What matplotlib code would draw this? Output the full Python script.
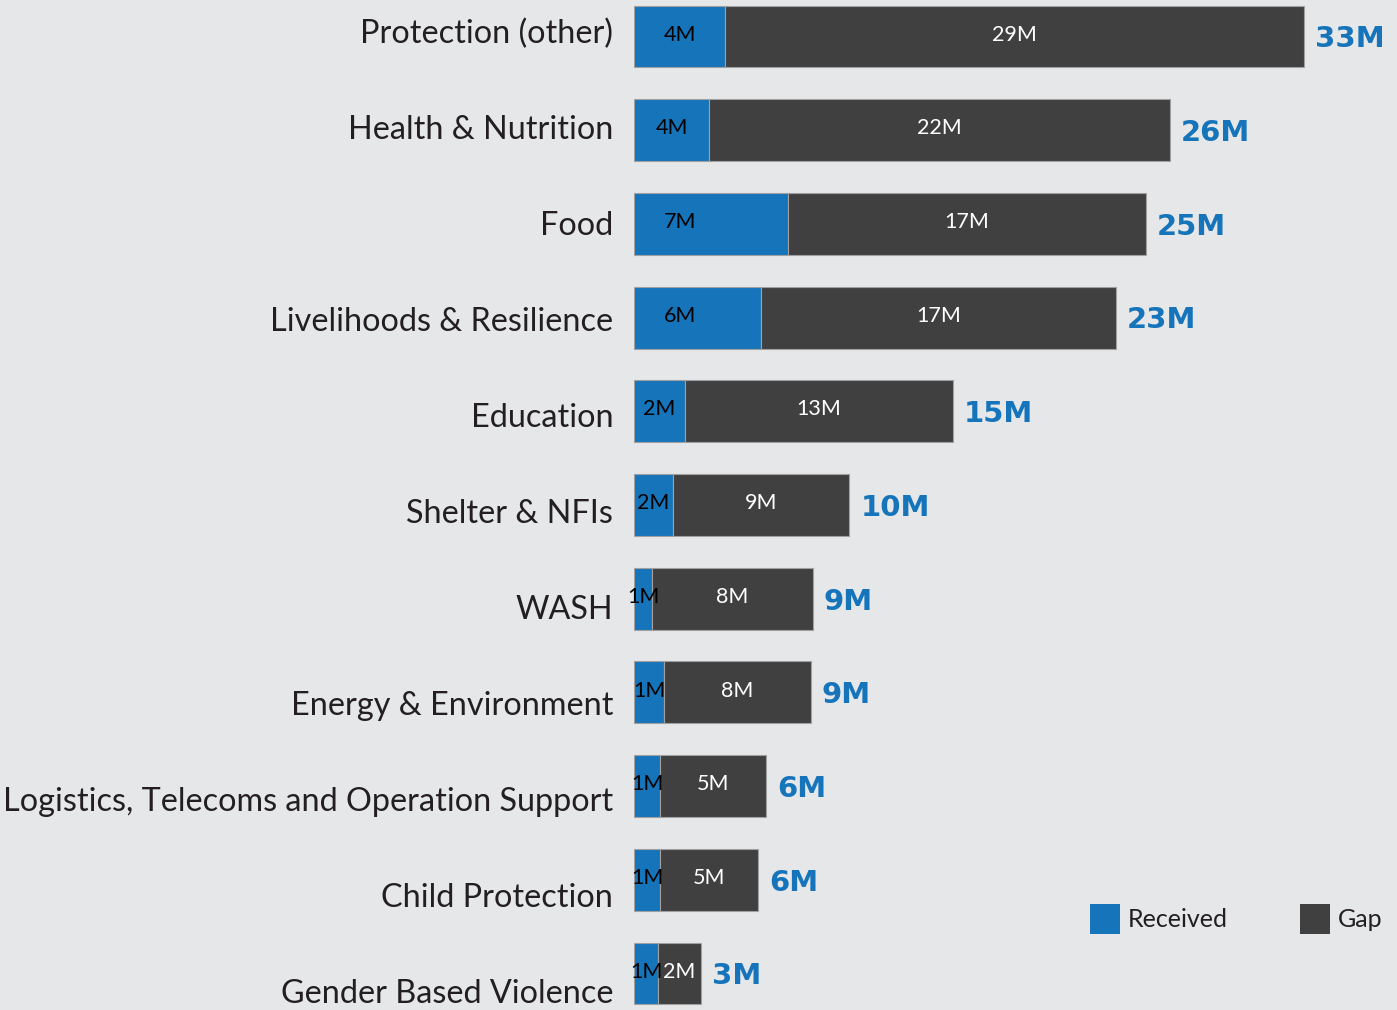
import matplotlib.pyplot as plt
from matplotlib.patches import Patch

# 数据 (单位: 百万)
categories = ['Protection (other)', 'Health & Nutrition', 'Food', 'Livelihoods & Resilience',
              'Education', 'Shelter & NFIs', 'WASH', 'Energy & Environment',
              'Logistics, Telecoms and Operation Support', 'Child Protection',
              'Gender Based Violence']
received = [4.5, 3.7, 7.6, 6.25, 2.5, 1.9, 0.9, 1.5, 1.3, 1.3, 1.2]
gap = [28.5, 22.7, 17.6, 17.5, 13.2, 8.7, 7.9, 7.2, 5.2, 4.8, 2.1]
received_labels = ['4M', '4M', '7M', '6M', '2M', '2M', '1M', '1M', '1M', '1M', '1M']
gap_labels = ['29M', '22M', '17M', '17M', '13M', '9M', '8M', '8M', '5M', '5M', '2M']
total_labels = ['33M', '26M', '25M', '23M', '15M', '10M', '9M', '9M', '6M', '6M', '3M']

BG = '#e6e7e9'
BLUE = '#1674bb'
DARK = '#404040'
TEXT = '#231f20'

fig = plt.figure(figsize=(13.97, 10.10), dpi=100, facecolor=BG)
ax = fig.add_axes([634 / 1397, 0, 763 / 1397, 1])
ax.set_facecolor(BG)

y = list(range(len(categories)))
ax.barh(y, received, height=0.66, color=BLUE, edgecolor='#a0a0a0', linewidth=0.8)
ax.barh(y, gap, left=received, height=0.66, color=DARK, edgecolor='#a0a0a0', linewidth=0.8)

ax.set_xlim(0, 763 / 20.3)
ax.set_ylim(10.39, -0.39)
ax.axis('off')

step = 96 / 93.65
for i, name in enumerate(categories):
    r, g = received[i], gap[i]
    # 类别标签 (间距略大于柱子间距)
    ax.annotate(name, xy=(0, i * step - 0.03), xytext=(-15, 0), textcoords='offset points',
                ha='right', va='center', fontsize=23.3, color=TEXT, family='Lato',
                annotation_clip=False)
    # 柱内数值
    ax.text(min(r / 2, 2.25), i - 0.02, received_labels[i], ha='center', va='center',
            fontsize=15.5, color='black', family='Lato')
    ax.text(r + g / 2, i - 0.02, gap_labels[i], ha='center', va='center',
            fontsize=15.5, color='white', family='Lato')
    # 总额
    ax.annotate(total_labels[i], xy=(r + g, i + 0.03), xytext=(8, 0), textcoords='offset points',
                ha='left', va='center', fontsize=21, fontweight='bold', color=BLUE,
                family='DejaVu Sans')

handles = [Patch(facecolor=BLUE, label='Received'), Patch(facecolor=DARK, label='Gap')]
leg = fig.legend(handles=handles, loc='center left', bbox_to_anchor=(1090 / 1397, 1 - 919 / 1010),
                 ncol=2, frameon=False, borderpad=0, borderaxespad=0,
                 handlelength=1.2, handleheight=1.45, handletextpad=0.3, columnspacing=2.9,
                 prop={'family': 'Lato', 'size': 18})
for t in leg.get_texts():
    t.set_color(TEXT)

fig.savefig('out.png', dpi=100, facecolor=BG)
